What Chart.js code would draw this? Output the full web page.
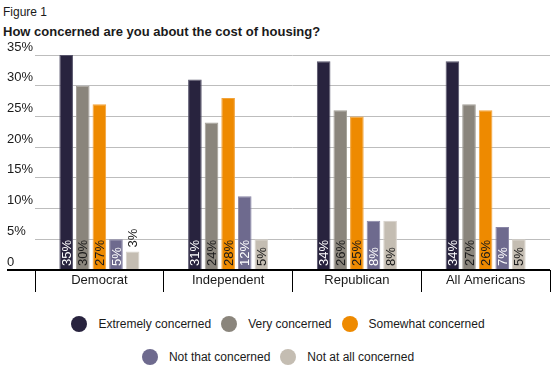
<!DOCTYPE html>
<html>
<head>
<meta charset="utf-8">
<script src="https://cdn.jsdelivr.net/npm/chart.js@4.4.1/dist/chart.umd.min.js"></script>
<style>
  html, body { margin: 0; padding: 0; background: #fff; }
  body { width: 560px; height: 374px; position: relative; overflow: hidden; font-family: "Liberation Sans", Arial, sans-serif; color: #1a1a1a; }
  .fig { position: absolute; left: 3px; top: 4px; font-size: 12px; line-height: 16px; }
  .title { position: absolute; left: 3px; top: 24px; font-size: 13px; line-height: 16px; font-weight: bold; }
  .chart-wrap { position: absolute; left: 0; top: 0; width: 560px; height: 300px; }
  .chart-legend { position: absolute; left: 3px; top: 316px; width: 550px; }
  .legend-row { display: flex; justify-content: center; height: 16px; font-size: 12px; line-height: 16px; }
  .legend-row + .legend-row { margin-top: 17px; }
  .legend-item { display: flex; align-items: center; margin: 0 5px; }
  .legend-dot { width: 16px; height: 16px; border-radius: 50%; margin-right: 11px; }
</style>
</head>
<body>
<div class="fig">Figure 1</div>
<div class="title">How concerned are you about the cost of housing?</div>
<div class="chart-wrap"><canvas id="c" width="560" height="300"></canvas></div>
<div class="chart-legend" id="legend"></div>
<script>
const categories = ['Democrat', 'Independent', 'Republican', 'All Americans'];
const seriesNames = ['Extremely concerned', 'Very concerned', 'Somewhat concerned', 'Not that concerned', 'Not at all concerned'];
const extremely = [35, 31, 34, 34];
const very = [30, 24, 26, 27];
const somewhat = [27, 28, 25, 26];
const notThat = [5, 12, 8, 7];
const notAtAll = [3, 5, 8, 5];
const yTickValues = [0, 5, 10, 15, 20, 25, 30, 35];

const COLORS = ['#28233e', '#8a857c', '#ee8a00', '#6e6a8e', '#c4bdb2'];
const BORDERS = ['#56536a', '#a39f97', '#f2a33a', '#8986a6', '#d6d1c9'];
const LABEL_COLORS = ['#fff', '#1a1a1a', '#1a1a1a', '#fff', '#1a1a1a'];
const FONT = '"Liberation Sans", Arial, sans-serif';

const series = [extremely, very, somewhat, notThat, notAtAll];

// value labels written upward inside each bar, above it when it is too short
const barLabels = {
  id: 'barLabels',
  afterDatasetsDraw(chart) {
    const { ctx } = chart;
    ctx.save();
    ctx.font = '13px ' + FONT;
    ctx.textBaseline = 'middle';
    ctx.textAlign = 'left';
    chart.data.datasets.forEach((ds, i) => {
      chart.getDatasetMeta(i).data.forEach((bar, j) => {
        const txt = ds.data[j] + '%';
        const w = ctx.measureText(txt).width;
        const h = bar.base - bar.y;
        let y = bar.base - 3, color = LABEL_COLORS[i];
        if (w + 6 > h) { y = bar.y - 4; color = '#1a1a1a'; }
        ctx.save();
        ctx.translate(bar.x + 1, y);
        ctx.rotate(-Math.PI / 2);
        ctx.fillStyle = color;
        ctx.fillText(txt, 0, 0);
        ctx.restore();
      });
    });
    ctx.restore();
  }
};

new Chart(document.getElementById('c'), {
  type: 'bar',
  data: {
    labels: categories,
    datasets: series.map((d, i) => ({
      label: seriesNames[i],
      data: d,
      backgroundColor: COLORS[i],
      borderColor: BORDERS[i],
      borderWidth: 1,
      categoryPercentage: 0.645,
      barPercentage: 0.82
    }))
  },
  options: {
    responsive: false,
    animation: false,
    devicePixelRatio: 1,
    layout: { padding: { left: 7, right: 10, top: 55, bottom: 8 } },
    plugins: { legend: { display: false }, tooltip: { enabled: false } },
    scales: {
      x: {
        border: { display: false },
        grid: { drawOnChartArea: false, drawTicks: true, tickLength: 22, color: '#000', lineWidth: 1 },
        ticks: { color: '#1a1a1a', font: { family: FONT, size: 13 }, padding: -19 },
        afterFit: s => { s.height = 22; }
      },
      y: {
        min: 0, max: 35,
        border: { display: false },
        afterBuildTicks: s => { s.ticks = yTickValues.map(v => ({ value: v })); },
        grid: {
          color: c => c.tick && c.tick.value === 0 ? '#000' : '#bdbdbd',
          lineWidth: c => c.tick && c.tick.value === 0 ? 2 : 1,
          tickColor: c => c.tick && c.tick.value === 0 ? '#000' : 'rgba(0,0,0,0)',
          tickLength: 28
        },
        ticks: {
          color: '#1a1a1a', font: { family: FONT, size: 13 },
          crossAlign: 'far', labelOffset: -8, padding: 0,
          callback: v => v === 0 ? '0' : v + '%'
        },
        afterFit: s => { s.width = 28; }
      }
    }
  },
  plugins: [barLabels]
});

// html legend, two rows as in the figure
const rows = [[0, 1, 2], [3, 4]];
document.getElementById('legend').innerHTML = rows.map(r =>
  '<div class="legend-row">' + r.map(i =>
    '<span class="legend-item"><span class="legend-dot" style="background:' + COLORS[i] + '"></span>' + seriesNames[i] + '</span>'
  ).join('') + '</div>'
).join('');
</script>
</body>
</html>
